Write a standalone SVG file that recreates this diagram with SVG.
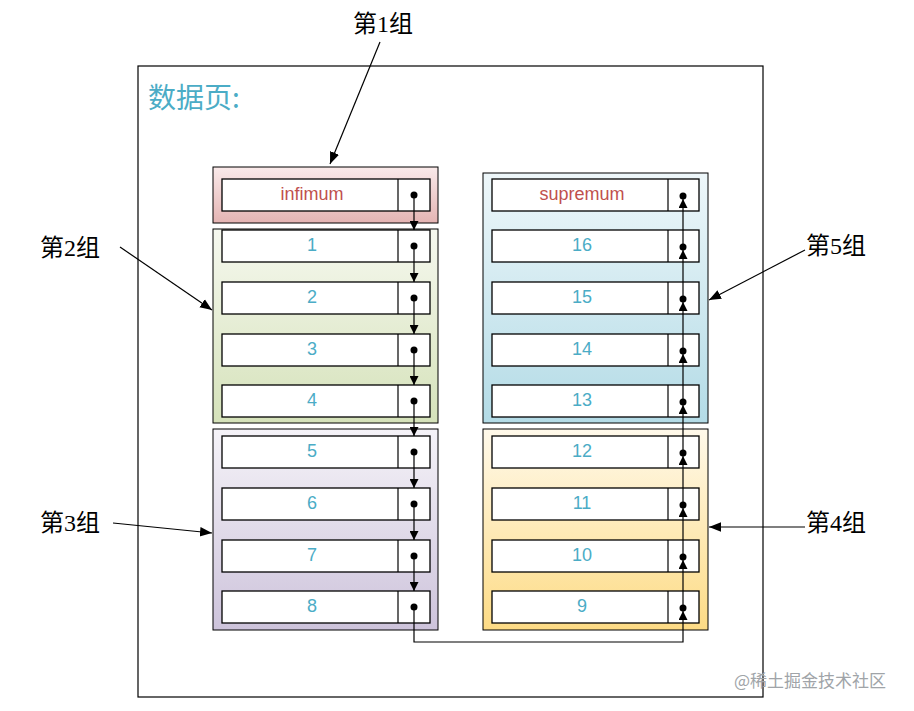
<svg xmlns="http://www.w3.org/2000/svg" width="914" height="711" viewBox="0 0 914 711">
<defs>
<linearGradient id="g1" x1="0" y1="0" x2="0" y2="1"><stop offset="0" stop-color="#faeaea"/><stop offset="1" stop-color="#e4b4b3"/></linearGradient>
<linearGradient id="g2" x1="0" y1="0" x2="0" y2="1"><stop offset="0" stop-color="#f6f8ef"/><stop offset="1" stop-color="#d5e2ba"/></linearGradient>
<linearGradient id="g3" x1="0" y1="0" x2="0" y2="1"><stop offset="0" stop-color="#f5f3f8"/><stop offset="1" stop-color="#cdc3db"/></linearGradient>
<linearGradient id="g5" x1="0" y1="0" x2="0" y2="1"><stop offset="0" stop-color="#eef7fa"/><stop offset="1" stop-color="#b3dbe6"/></linearGradient>
<linearGradient id="g4" x1="0" y1="0" x2="0" y2="1"><stop offset="0" stop-color="#fff9ea"/><stop offset="1" stop-color="#fddb85"/></linearGradient>
<marker id="ah" viewBox="0 0 10 10" refX="10" refY="5" markerWidth="9" markerHeight="9" markerUnits="userSpaceOnUse" orient="auto"><path d="M0,0L10,5L0,10z" fill="#000"/></marker>
<marker id="ah2" viewBox="0 0 10 10" refX="10" refY="5" markerWidth="12" markerHeight="12" markerUnits="userSpaceOnUse" orient="auto"><path d="M0,1L10,5L0,9z" fill="#000"/></marker>
</defs>
<style>
.grp{stroke:#000;stroke-width:1}
.rec{fill:#fff;stroke:#000;stroke-width:1.3}
.num{font-family:"Liberation Sans",sans-serif;font-size:18px;fill:#4bacc6;text-anchor:middle}
.lbl{font-family:"Liberation Serif","Noto Sans CJK SC",serif;font-size:24px;fill:#000}
.c{fill:none;stroke:#000;stroke-width:1.2}
</style>
<rect x="138" y="66" width="625" height="631" fill="#fff" stroke="#000" stroke-width="1.2"/>
<text x="148" y="108" font-family="Noto Sans CJK SC,sans-serif" font-size="28" fill="#4bacc6">数据页:</text>
<g id="group1"><rect class="grp" x="213" y="167" width="225" height="56" fill="url(#g1)"/></g>
<g id="group2"><rect class="grp" x="213" y="229" width="225" height="194" fill="url(#g2)"/></g>
<g id="group3"><rect class="grp" x="213" y="429" width="225" height="201" fill="url(#g3)"/></g>
<g id="group5"><rect class="grp" x="483" y="173" width="225" height="250" fill="url(#g5)"/></g>
<g id="group4"><rect class="grp" x="483" y="429" width="225" height="201" fill="url(#g4)"/></g>
<g id="left-records">
<g id="r-inf"><rect class="rec" x="222" y="179" width="208" height="32"/><line class="c" x1="398" y1="179" x2="398" y2="211"/><text x="312" y="200" class="num" style="fill:#c0504d">infimum</text><circle cx="414" cy="195" r="3.5"/></g>
<g id="r1"><rect class="rec" x="222" y="230" width="208" height="32"/><line class="c" x1="398" y1="230" x2="398" y2="262"/><text x="312" y="251" class="num">1</text><circle cx="414" cy="246" r="3.5"/></g>
<g id="r2"><rect class="rec" x="222" y="282" width="208" height="32"/><line class="c" x1="398" y1="282" x2="398" y2="314"/><text x="312" y="303" class="num">2</text><circle cx="414" cy="298" r="3.5"/></g>
<g id="r3"><rect class="rec" x="222" y="334" width="208" height="32"/><line class="c" x1="398" y1="334" x2="398" y2="366"/><text x="312" y="355" class="num">3</text><circle cx="414" cy="350" r="3.5"/></g>
<g id="r4"><rect class="rec" x="222" y="385" width="208" height="32"/><line class="c" x1="398" y1="385" x2="398" y2="417"/><text x="312" y="406" class="num">4</text><circle cx="414" cy="401" r="3.5"/></g>
<g id="r5"><rect class="rec" x="222" y="436" width="208" height="32"/><line class="c" x1="398" y1="436" x2="398" y2="468"/><text x="312" y="457" class="num">5</text><circle cx="414" cy="452" r="3.5"/></g>
<g id="r6"><rect class="rec" x="222" y="488" width="208" height="32"/><line class="c" x1="398" y1="488" x2="398" y2="520"/><text x="312" y="509" class="num">6</text><circle cx="414" cy="504" r="3.5"/></g>
<g id="r7"><rect class="rec" x="222" y="540" width="208" height="32"/><line class="c" x1="398" y1="540" x2="398" y2="572"/><text x="312" y="561" class="num">7</text><circle cx="414" cy="556" r="3.5"/></g>
<g id="r8"><rect class="rec" x="222" y="591" width="208" height="32"/><line class="c" x1="398" y1="591" x2="398" y2="623"/><text x="312" y="612" class="num">8</text><circle cx="414" cy="607" r="3.5"/></g>
</g>
<g id="right-records">
<g id="r-sup"><rect class="rec" x="492" y="179" width="207" height="32"/><line class="c" x1="668" y1="179" x2="668" y2="211"/><text x="582" y="200" class="num" style="fill:#c0504d">supremum</text><circle cx="683" cy="196" r="3.5"/></g>
<g id="r16"><rect class="rec" x="492" y="230" width="207" height="32"/><line class="c" x1="668" y1="230" x2="668" y2="262"/><text x="582" y="251" class="num">16</text><circle cx="683" cy="247" r="3.5"/></g>
<g id="r15"><rect class="rec" x="492" y="282" width="207" height="32"/><line class="c" x1="668" y1="282" x2="668" y2="314"/><text x="582" y="303" class="num">15</text><circle cx="683" cy="299" r="3.5"/></g>
<g id="r14"><rect class="rec" x="492" y="334" width="207" height="32"/><line class="c" x1="668" y1="334" x2="668" y2="366"/><text x="582" y="355" class="num">14</text><circle cx="683" cy="351" r="3.5"/></g>
<g id="r13"><rect class="rec" x="492" y="385" width="207" height="32"/><line class="c" x1="668" y1="385" x2="668" y2="417"/><text x="582" y="406" class="num">13</text><circle cx="683" cy="402" r="3.5"/></g>
<g id="r12"><rect class="rec" x="492" y="436" width="207" height="32"/><line class="c" x1="668" y1="436" x2="668" y2="468"/><text x="582" y="457" class="num">12</text><circle cx="683" cy="453" r="3.5"/></g>
<g id="r11"><rect class="rec" x="492" y="488" width="207" height="32"/><line class="c" x1="668" y1="488" x2="668" y2="520"/><text x="582" y="509" class="num">11</text><circle cx="683" cy="505" r="3.5"/></g>
<g id="r10"><rect class="rec" x="492" y="540" width="207" height="32"/><line class="c" x1="668" y1="540" x2="668" y2="572"/><text x="582" y="561" class="num">10</text><circle cx="683" cy="557" r="3.5"/></g>
<g id="r9"><rect class="rec" x="492" y="591" width="207" height="32"/><line class="c" x1="668" y1="591" x2="668" y2="623"/><text x="582" y="612" class="num">9</text><circle cx="683" cy="608" r="3.5"/></g>
</g>
<g id="connectors">
<path class="c" d="M414,195V230" marker-end="url(#ah)"/>
<path class="c" d="M414,246V282" marker-end="url(#ah)"/>
<path class="c" d="M414,298V334" marker-end="url(#ah)"/>
<path class="c" d="M414,350V385" marker-end="url(#ah)"/>
<path class="c" d="M414,401V436" marker-end="url(#ah)"/>
<path class="c" d="M414,452V488" marker-end="url(#ah)"/>
<path class="c" d="M414,504V540" marker-end="url(#ah)"/>
<path class="c" d="M414,556V591" marker-end="url(#ah)"/>
<path class="c" d="M414,607V642H683V611" marker-end="url(#ah)"/>
<path class="c" d="M683,608V560" marker-end="url(#ah)"/>
<path class="c" d="M683,557V508" marker-end="url(#ah)"/>
<path class="c" d="M683,505V456" marker-end="url(#ah)"/>
<path class="c" d="M683,453V405" marker-end="url(#ah)"/>
<path class="c" d="M683,402V354" marker-end="url(#ah)"/>
<path class="c" d="M683,351V302" marker-end="url(#ah)"/>
<path class="c" d="M683,299V250" marker-end="url(#ah)"/>
<path class="c" d="M683,247V199" marker-end="url(#ah)"/>
<path class="c" d="M380,42L330,164" marker-end="url(#ah2)"/>
<path class="c" d="M120,247L212,310" marker-end="url(#ah2)"/>
<path class="c" d="M113,523L212,533" marker-end="url(#ah2)"/>
<path class="c" d="M805,250L709,300" marker-end="url(#ah2)"/>
<path class="c" d="M805,527L709,527" marker-end="url(#ah2)"/>
</g>
<g id="labels">
<text class="lbl" x="353" y="32">第1组</text>
<text class="lbl" x="40" y="256">第2组</text>
<text class="lbl" x="40" y="531">第3组</text>
<text class="lbl" x="806" y="254">第5组</text>
<text class="lbl" x="806" y="531">第4组</text>
<text x="734" y="687" font-family="Noto Sans CJK SC,sans-serif" font-size="17" fill="#a0a4a8">@稀土掘金技术社区</text>
</g>
</svg>
